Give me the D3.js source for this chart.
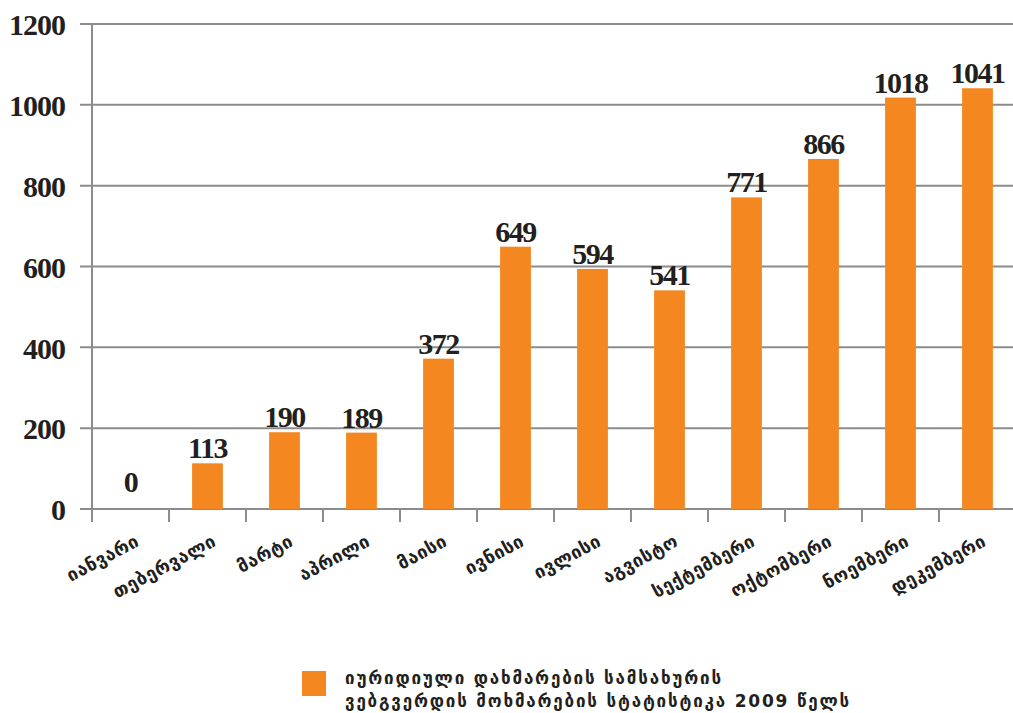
<!DOCTYPE html>
<html>
<head>
<meta charset="utf-8">
<script src="https://cdn.jsdelivr.net/npm/d3@7"></script>
<style>
  body { margin: 0; background: #fff; }
  svg { display: block; }
</style>
</head>
<body>
<div id="chart-area"></div>
<script>
const months = ["იანვარი", "თებერვალი", "მარტი", "აპრილი", "მაისი", "ივნისი",
                "ივლისი", "აგვისტო", "სექტემბერი", "ოქტომბერი", "ნოემბერი", "დეკემბერი"];
const visits = [0, 113, 190, 189, 372, 649, 594, 541, 771, 866, 1018, 1041];
const yTicks = [0, 200, 400, 600, 800, 1000, 1200];
const legendLines = ["იურიდიული დახმარების სამსახურის",
                     "ვებგვერდის მოხმარების სტატისტიკა 2009 წელს"];

const width = 1013;
const height = 713;
const margin = { top: 24, left: 92, bottom: 204 };
const baseY = height - margin.bottom;
const gridColor = "#8c8c8c";
const barColor = "#f48720";
const ink = "#231f20";

const svg = d3.select("#chart-area")
              .append("svg")
              .attr("width", width)
              .attr("height", height);

const x = d3.scaleBand()
            .domain(months)
            .range([margin.left, margin.left + 12 * 77])
            .paddingInner(0.6)
            .paddingOuter(0.3);

const y = d3.scaleLinear()
            .domain([0, 1200])
            .range([baseY, margin.top]);

// gridlines
svg.append("g")
   .selectAll("line")
   .data(yTicks)
   .enter()
   .append("line")
   .attr("x1", margin.left - 12)
   .attr("x2", width)
   .attr("y1", d => y(d))
   .attr("y2", d => y(d))
   .attr("stroke", gridColor)
   .attr("stroke-width", 2);

// y axis with labels
const axisY = d3.axisLeft(y)
                .tickValues(yTicks)
                .tickFormat(d3.format("d"))
                .tickSize(0)
                .tickPadding(27);

const gy = svg.append("g")
   .attr("transform", `translate(${margin.left},0)`)
   .call(axisY);
gy.select(".domain").remove();
gy.selectAll("text")
  .attr("fill", ink)
  .attr("font-family", "'Liberation Serif', 'DejaVu Serif', serif")
  .attr("font-weight", "bold")
  .attr("font-size", 30)
  .attr("letter-spacing", -1)
  .attr("dy", "0.36em");

svg.append("line")
   .attr("x1", margin.left).attr("x2", margin.left)
   .attr("y1", y(1200)).attr("y2", baseY + 13)
   .attr("stroke", gridColor)
   .attr("stroke-width", 2);

// x axis ticks on band edges
const step = x.step();
svg.append("g")
   .selectAll("line")
   .data(d3.range(months.length + 1))
   .enter()
   .append("line")
   .attr("x1", i => margin.left + i * step)
   .attr("x2", i => margin.left + i * step)
   .attr("y1", baseY)
   .attr("y2", baseY + 13)
   .attr("stroke", gridColor)
   .attr("stroke-width", 2);

// bars
svg.append("g")
   .selectAll("rect")
   .data(visits)
   .enter()
   .append("rect")
   .attr("x", (d, i) => x(months[i]))
   .attr("y", d => y(d))
   .attr("width", x.bandwidth())
   .attr("height", d => baseY - y(d))
   .attr("fill", barColor);

// value labels
svg.append("g")
   .selectAll("text")
   .data(visits)
   .enter()
   .append("text")
   .attr("x", (d, i) => x(months[i]) + x.bandwidth() / 2)
   .attr("y", d => Math.min(y(d) - 5, baseY - 17))
   .attr("text-anchor", "middle")
   .attr("fill", ink)
   .attr("font-family", "'Liberation Serif', 'DejaVu Serif', serif")
   .attr("font-weight", "bold")
   .attr("font-size", 30)
   .attr("letter-spacing", -1.5)
   .text(d => d);

// month labels
svg.append("g")
   .selectAll("text")
   .data(months)
   .enter()
   .append("text")
   .attr("transform", d => `translate(${x(d) + x.bandwidth() / 2 + 10},${baseY + 36}) rotate(-28)`)
   .attr("text-anchor", "end")
   .attr("fill", ink)
   .attr("font-family", "'DejaVu Sans', sans-serif")
   .attr("font-weight", "bold")
   .attr("font-size", 18)
   .attr("letter-spacing", 0.5)
   .text(d => d);

// legend
const legend = svg.append("g");
legend.append("rect")
      .attr("x", 302)
      .attr("y", 671)
      .attr("width", 24)
      .attr("height", 25)
      .attr("fill", barColor);

legend.selectAll("text")
      .data(legendLines)
      .enter()
      .append("text")
      .attr("x", 345)
      .attr("y", (d, i) => 684 + i * 23)
      .attr("fill", ink)
      .attr("font-family", "'DejaVu Sans', sans-serif")
      .attr("font-weight", "bold")
      .attr("font-size", 17)
      .attr("letter-spacing", 1.8)
      .text(d => d);
</script>
</body>
</html>
